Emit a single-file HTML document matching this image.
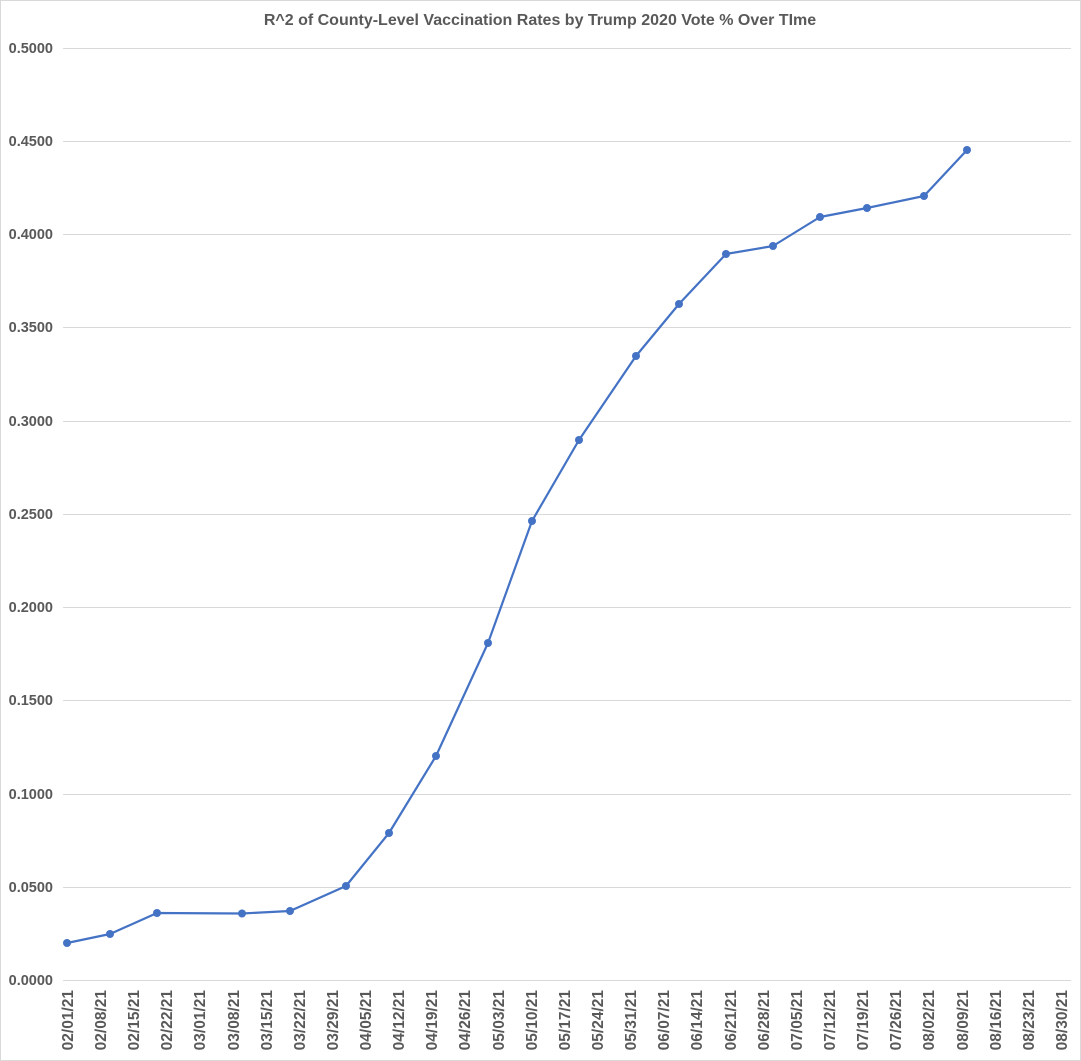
<!DOCTYPE html>
<html><head><meta charset="utf-8"><style>
html,body{margin:0;padding:0;background:#fff}
svg{display:block;font-family:"Liberation Sans",sans-serif}
</style></head><body>
<svg width="1081" height="1061" viewBox="0 0 1081 1061" xmlns="http://www.w3.org/2000/svg">
<rect x="0.5" y="0.5" width="1080" height="1060" fill="#fff" stroke="#d9d9d9"/>
<text x="540" y="25" text-anchor="middle" font-size="16" font-weight="bold" fill="#595959">R^2 of County-Level Vaccination Rates by Trump 2020 Vote % Over TIme</text>
<g stroke="#d9d9d9" stroke-width="1">
<line x1="63" x2="1071" y1="48.5" y2="48.5"/>
<line x1="63" x2="1071" y1="141.5" y2="141.5"/>
<line x1="63" x2="1071" y1="234.5" y2="234.5"/>
<line x1="63" x2="1071" y1="327.5" y2="327.5"/>
<line x1="63" x2="1071" y1="421.5" y2="421.5"/>
<line x1="63" x2="1071" y1="514.5" y2="514.5"/>
<line x1="63" x2="1071" y1="607.5" y2="607.5"/>
<line x1="63" x2="1071" y1="700.5" y2="700.5"/>
<line x1="63" x2="1071" y1="794.5" y2="794.5"/>
<line x1="63" x2="1071" y1="887.5" y2="887.5"/>
<line x1="63" x2="1071" y1="980.5" y2="980.5"/>
</g>
<g font-size="14.5" font-weight="bold" fill="#595959" text-anchor="end">
<text x="53" y="53">0.5000</text>
<text x="53" y="146">0.4500</text>
<text x="53" y="239">0.4000</text>
<text x="53" y="332">0.3500</text>
<text x="53" y="426">0.3000</text>
<text x="53" y="519">0.2500</text>
<text x="53" y="612">0.2000</text>
<text x="53" y="705">0.1500</text>
<text x="53" y="799">0.1000</text>
<text x="53" y="892">0.0500</text>
<text x="53" y="985">0.0000</text>
</g>
<polyline fill="none" stroke="#4472C4" stroke-width="2.2" stroke-linejoin="round" points="67,943 110,934 157,913 242,913.5 290,911 346,886 389,833 436,756 488,643 532,521 579,440 636,356 679,304 726,254 773,246 820,217 867,208 924,196 967,150"/>
<g fill="#4472C4">
<circle cx="67" cy="943" r="4"/><circle cx="110" cy="934" r="4"/><circle cx="157" cy="913" r="4"/><circle cx="242" cy="913.5" r="4"/><circle cx="290" cy="911" r="4"/><circle cx="346" cy="886" r="4"/><circle cx="389" cy="833" r="4"/><circle cx="436" cy="756" r="4"/><circle cx="488" cy="643" r="4"/><circle cx="532" cy="521" r="4"/><circle cx="579" cy="440" r="4"/><circle cx="636" cy="356" r="4"/><circle cx="679" cy="304" r="4"/><circle cx="726" cy="254" r="4"/><circle cx="773" cy="246" r="4"/><circle cx="820" cy="217" r="4"/><circle cx="867" cy="208" r="4"/><circle cx="924" cy="196" r="4"/><circle cx="967" cy="150" r="4"/>
</g>
<g font-size="15.5" font-weight="bold" fill="#595959" text-anchor="end">
<text transform="translate(73,990) rotate(-90)">02/01/21</text>
<text transform="translate(106,990) rotate(-90)">02/08/21</text>
<text transform="translate(139,990) rotate(-90)">02/15/21</text>
<text transform="translate(172,990) rotate(-90)">02/22/21</text>
<text transform="translate(205,990) rotate(-90)">03/01/21</text>
<text transform="translate(239,990) rotate(-90)">03/08/21</text>
<text transform="translate(272,990) rotate(-90)">03/15/21</text>
<text transform="translate(305,990) rotate(-90)">03/22/21</text>
<text transform="translate(338,990) rotate(-90)">03/29/21</text>
<text transform="translate(371,990) rotate(-90)">04/05/21</text>
<text transform="translate(404,990) rotate(-90)">04/12/21</text>
<text transform="translate(437,990) rotate(-90)">04/19/21</text>
<text transform="translate(470,990) rotate(-90)">04/26/21</text>
<text transform="translate(504,990) rotate(-90)">05/03/21</text>
<text transform="translate(537,990) rotate(-90)">05/10/21</text>
<text transform="translate(570,990) rotate(-90)">05/17/21</text>
<text transform="translate(603,990) rotate(-90)">05/24/21</text>
<text transform="translate(636,990) rotate(-90)">05/31/21</text>
<text transform="translate(669,990) rotate(-90)">06/07/21</text>
<text transform="translate(702,990) rotate(-90)">06/14/21</text>
<text transform="translate(736,990) rotate(-90)">06/21/21</text>
<text transform="translate(769,990) rotate(-90)">06/28/21</text>
<text transform="translate(802,990) rotate(-90)">07/05/21</text>
<text transform="translate(835,990) rotate(-90)">07/12/21</text>
<text transform="translate(868,990) rotate(-90)">07/19/21</text>
<text transform="translate(901,990) rotate(-90)">07/26/21</text>
<text transform="translate(934,990) rotate(-90)">08/02/21</text>
<text transform="translate(968,990) rotate(-90)">08/09/21</text>
<text transform="translate(1001,990) rotate(-90)">08/16/21</text>
<text transform="translate(1034,990) rotate(-90)">08/23/21</text>
<text transform="translate(1067,990) rotate(-90)">08/30/21</text>
</g>
</svg>
</body></html>
